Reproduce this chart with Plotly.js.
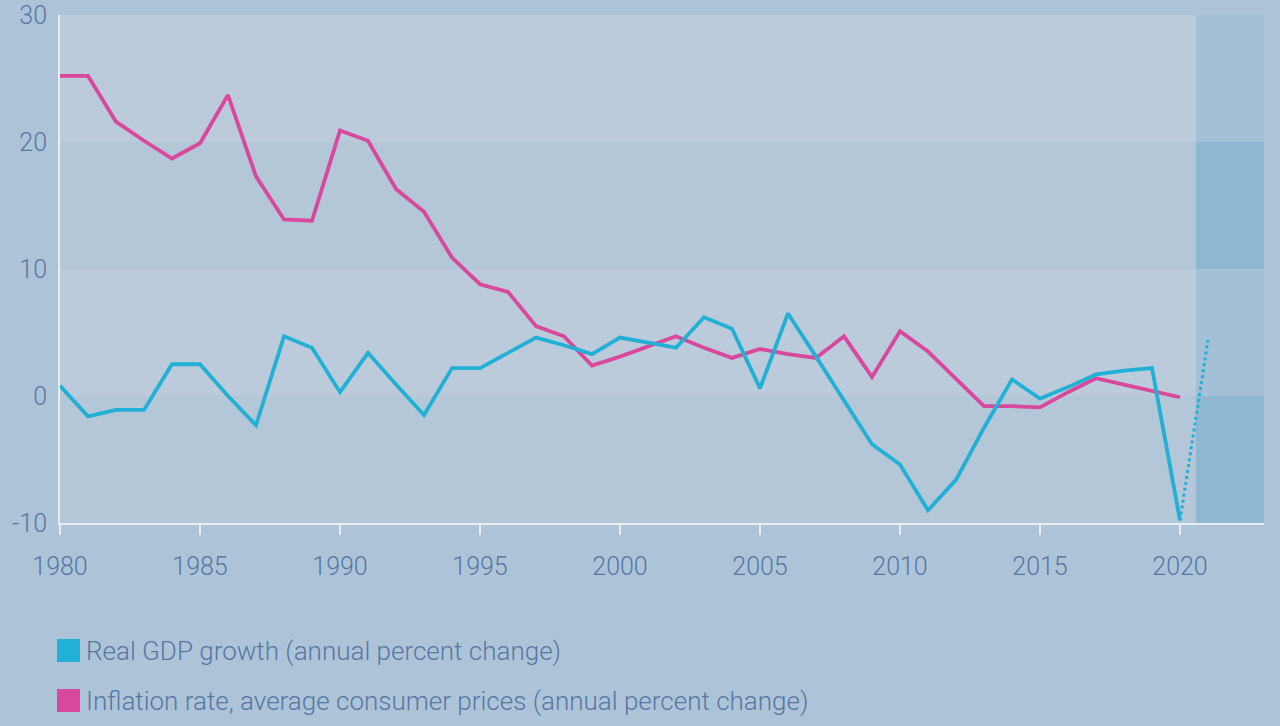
<!DOCTYPE html>
<html>
<head>
<meta charset="utf-8">
<script src="https://cdn.plot.ly/plotly-3.0.1.min.js"></script>
<style>
  body { margin: 0; background: #adc4d8; }
  #chart { width: 1280px; height: 726px; }
</style>
</head>
<body>
<div id="chart"></div>
<script>
//data
var years = [1980, 1981, 1982, 1983, 1984, 1985, 1986, 1987, 1988, 1989,
  1990, 1991, 1992, 1993, 1994, 1995, 1996, 1997, 1998, 1999,
  2000, 2001, 2002, 2003, 2004, 2005, 2006, 2007, 2008, 2009,
  2010, 2011, 2012, 2013, 2014, 2015, 2016, 2017, 2018, 2019, 2020];

var gdpGrowth = [0.8, -1.6, -1.1, -1.1, 2.5, 2.5, 0.0, -2.3, 4.7, 3.8,
  0.3, 3.4, 0.9, -1.5, 2.2, 2.2, 3.4, 4.6, 4.0, 3.3,
  4.6, 4.2, 3.8, 6.2, 5.3, 0.6, 6.5, 3.1, -0.4, -3.8,
  -5.4, -9.0, -6.6, -2.5, 1.3, -0.2, 0.7, 1.7, 2.0, 2.2, -9.8];

var inflation = [25.2, 25.2, 21.6, 20.1, 18.7, 19.9, 23.7, 17.3, 13.9, 13.8,
  20.9, 20.1, 16.3, 14.5, 10.9, 8.8, 8.2, 5.5, 4.7, 2.4,
  3.1, 3.9, 4.7, 3.8, 3.0, 3.7, 3.3, 3.0, 4.7, 1.5,
  5.1, 3.5, 1.3, -0.8, -0.8, -0.9, 0.3, 1.4, 0.9, 0.4, -0.1];

//projection for the year after the last actual value
var projYears = [2020, 2021];
var projGdp = [-9.8, 4.4];

var yTicks = [-10, 0, 10, 20, 30];
var yTickText = ["-10", "0", "10", "20", "30"];
var xTicks = [1980, 1985, 1990, 1995, 2000, 2005, 2010, 2015, 2020];

var seriesNames = [
  "Real GDP growth (annual percent change)",
  "Inflation rate, average consumer prices (annual percent change)"
];

//colours
var gdpColor = "#22b0d5";
var inflColor = "#d8489c";
var labelColor = "#5877a3";
var bandLight = "#bccbdb";
var bandDark = "#b4c7d9";
var projLight = "#a4c0d7";
var projDark = "#8fb7d2";
var projStart = 2020.57;

var data = [
  {
    x: years,
    y: inflation,
    mode: "lines",
    type: "scatter",
    line: { color: inflColor, width: 3.8 },
    hoverinfo: "skip",
  },
  {
    x: years,
    y: gdpGrowth,
    mode: "lines",
    type: "scatter",
    line: { color: gdpColor, width: 3.8 },
    hoverinfo: "skip",
  },
  {
    x: projYears,
    y: projGdp,
    mode: "lines",
    type: "scatter",
    line: { color: gdpColor, width: 3, dash: "dot" },
    hoverinfo: "skip",
  },
];

//background bands, alternating every 10 points
var shapes = [];
for (var i = 0; i < yTicks.length - 1; i++) {
  var dark = (i % 2 == 0);
  shapes.push({
    type: "rect", layer: "below", xref: "x", yref: "y",
    x0: 1980, x1: projStart, y0: yTicks[i], y1: yTicks[i + 1],
    fillcolor: dark ? bandDark : bandLight, line: { width: 0 },
  });
  shapes.push({
    type: "rect", layer: "below", xref: "x", yref: "y",
    x0: projStart, x1: 2023, y0: yTicks[i], y1: yTicks[i + 1],
    fillcolor: dark ? projDark : projLight, line: { width: 0 },
  });
}

//legend drawn by hand: coloured squares and labels
var legendColors = [gdpColor, inflColor];
var annotations = [];
for (var j = 0; j < seriesNames.length; j++) {
  var rowTop = 639 + j * 50;
  shapes.push({
    type: "rect", xref: "paper", yref: "paper",
    x0: -3 / 1204, x1: 20 / 1204,
    y0: (523 - rowTop) / 508, y1: (523 - rowTop - 23) / 508,
    fillcolor: legendColors[j], line: { width: 0 },
  });
  annotations.push({
    xref: "paper", yref: "paper",
    x: 24 / 1204, y: (523 - rowTop - 12) / 508,
    xanchor: "left", yanchor: "middle",
    text: seriesNames[j], showarrow: false,
    font: { family: "Roboto", size: 26, color: labelColor, weight: 300 },
  });
}

var layout = {
  width: 1280,
  height: 726,
  margin: { l: 60, r: 16, t: 15, b: 203 },
  paper_bgcolor: "#adc4d8",
  plot_bgcolor: "rgba(0,0,0,0)",
  showlegend: false,
  font: { family: "Roboto", color: labelColor, size: 25, weight: 300 },
  xaxis: {
    range: [1980, 2023],
    tickvals: xTicks,
    ticks: "outside",
    ticklen: 10,
    tickwidth: 2,
    tickcolor: "#e6edf3",
    showline: true,
    linecolor: "#e6edf3",
    linewidth: 2,
    showgrid: false,
    zeroline: false,
    ticklabelstandoff: 10,
  },
  yaxis: {
    range: [-10, 30],
    tickvals: yTicks,
    ticktext: yTickText,
    ticks: "",
    showline: true,
    linecolor: "#e6edf3",
    linewidth: 2,
    showgrid: false,
    zeroline: false,
    ticklabelstandoff: 6,
  },
  shapes: shapes,
  annotations: annotations,
};

Plotly.newPlot("chart", data, layout, { staticPlot: true });
</script>
</body>
</html>
